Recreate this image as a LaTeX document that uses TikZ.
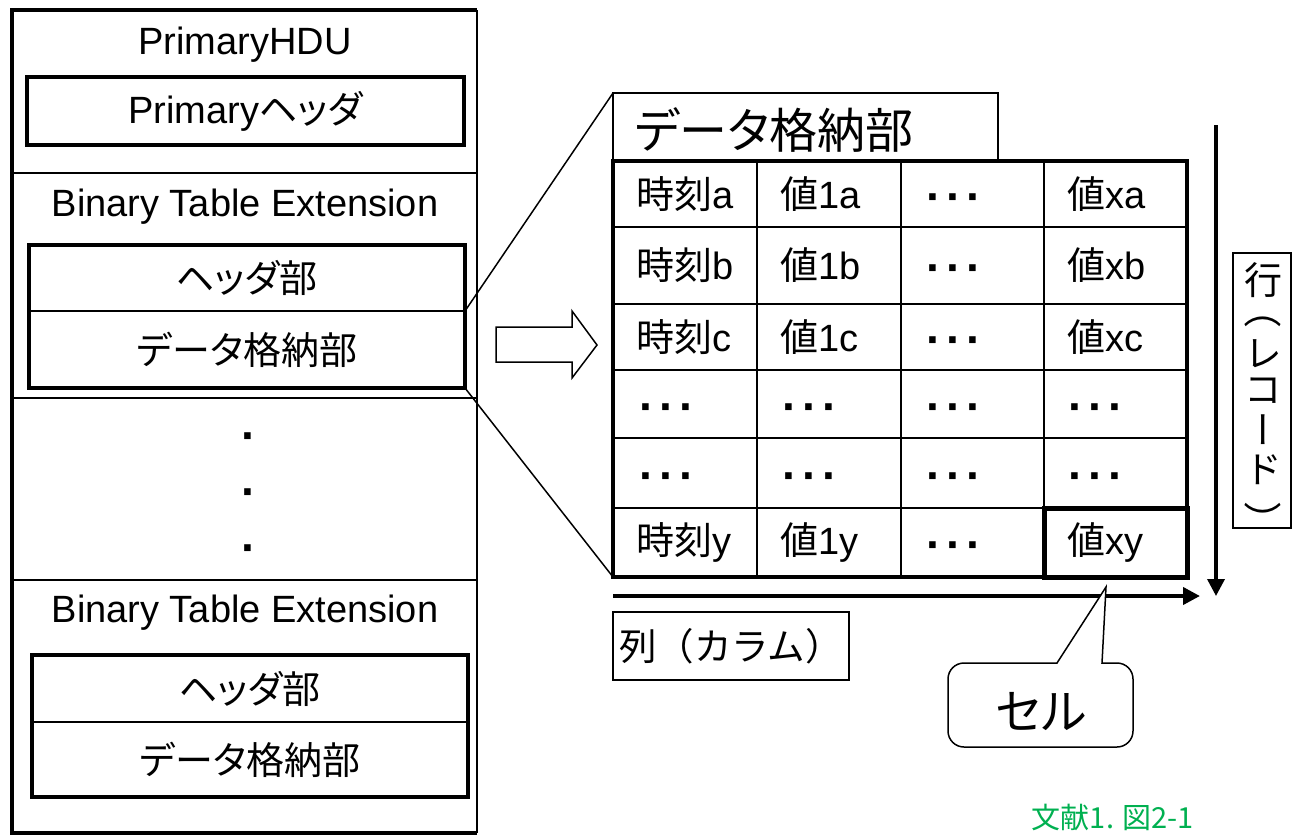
\documentclass[tikz,border=0pt]{standalone}
\usepackage{fontspec}
\setmainfont{Liberation Sans}
\newfontfamily\jp[RawFeature=+palt]{Noto Sans CJK JP}
\newfontfamily\jpf{Noto Sans CJK JP}
\newfontfamily\jpv[RawFeature=+vert]{Noto Sans CJK JP}
\usetikzlibrary{arrows.meta}
\newcommand\fs[1]{\fontsize{#1}{#1}\selectfont}
\newcommand\dt{{\fs{46}\bfseries ·}}
\newcommand\tdots{\dt\hspace{5pt}\dt\hspace{5pt}\dt}
\definecolor{citegreen}{RGB}{0,176,80}
\begin{document}
\begin{tikzpicture}[x=1pt,y=-1pt,
  every node/.style={inner sep=0pt, outer sep=0pt},
  txt/.style={font=\fs{38}},
  thickbox/.style={draw, line width=4pt},
  thinbox/.style={draw, line width=2pt},
  frame/.style={draw, line width=1.5pt},
  sep/.style={line width=2pt},
  grid/.style={line width=2.2pt},
  cell/.style={font=\fs{38}, anchor=west},
  dcell/.style={anchor=base west},
  vch/.style={font=\fs{38}\jpv},
  vparen/.style={font=\fs{38}\jp, rotate=-90},
  axis/.style={line width=4pt, -{Triangle[length=17pt,width=17pt]}}]
\useasboundingbox (0,0) rectangle (1293,836);
% ---------- left: file structure ----------
\node[minimum width=465pt, minimum height=823pt] (outer) at (244.5,421.5) {};
\draw[line width=4pt] (outer.north east) -- (outer.north west) -- (outer.south west) -- (outer.south east);
\draw[line width=2pt] (outer.north east) -- (outer.south east);
\draw[sep] (12,173) -- (477,173);
\draw[sep] (12,398) -- (477,398);
\draw[sep] (12,580) -- (477,580);
\node[txt] (hdu) at (245,45) {PrimaryHDU};
\node[thickbox, txt, minimum width=437pt, minimum height=68pt] (phdr) at (245.5,111) {Primary{\jp ヘッダ}};
\node[txt] (bte1t) at (245,207) {Binary Table Extension};
\node[thinbox, minimum width=436pt, minimum height=66pt, font=\fs{38}\jp] (h1) at (247,278) {ヘッダ部};
\node[thinbox, minimum width=436pt, minimum height=77pt, font=\fs{38}\jp] (d1) at (247,349.5) {データ格納部};
\draw[line width=4pt] (h1.north west) rectangle (d1.south east);
\node[dcell] (v1) at (241,451) {\dt};
\node[dcell] (v2) at (241,507) {\dt};
\node[dcell] (v3) at (241,563) {\dt};
\node[txt] (bte2t) at (245,613) {Binary Table Extension};
\node[thinbox, minimum width=436pt, minimum height=67pt, font=\fs{38}\jp] (h2) at (250,688.5) {ヘッダ部};
\node[thinbox, minimum width=436pt, minimum height=75pt, font=\fs{38}\jp] (d2) at (250,759.5) {データ格納部};
\draw[line width=4pt] (h2.north west) rectangle (d2.south east);
% ---------- block arrow ----------
\draw[line width=1.5pt, fill=white] (496,327) -- (572,327) -- (572,311) -- (597,345) -- (572,378) -- (572,362) -- (496,362) -- cycle;
% ---------- right: data table ----------
\node[frame, minimum width=385pt, minimum height=68pt] (title) at (805.5,127) {};
\node[anchor=west, font=\fs{48}\jp] (titletxt) at (635,130) {データ格納部};
\node[minimum width=574pt, minimum height=416pt] (table) at (900,369) {};
\foreach \x in {757,901,1044} \draw[grid] (\x,161) -- (\x,577);
\foreach \y in {227,304,370,438,508} \draw[grid] (613,\y) -- (1187,\y);
\draw[line width=4.5pt] (table.north west) rectangle (table.south east);
\node[draw, line width=5pt, minimum width=143pt, minimum height=69pt] (xy) at (1115.5,542.5) {};
% row 1
\node[cell] (r1c1) at (636,194) {{\jp 時刻}a};
\node[cell] (r1c2) at (780,194) {{\jp 値}1a};
\node[dcell] (r1c3) at (926,212) {\tdots};
\node[cell] (r1c4) at (1067,194) {{\jp 値}xa};
% row 2
\node[cell] (r2c1) at (636,265.5) {{\jp 時刻}b};
\node[cell] (r2c2) at (780,265.5) {{\jp 値}1b};
\node[dcell] (r2c3) at (926,283) {\tdots};
\node[cell] (r2c4) at (1067,265.5) {{\jp 値}xb};
% row 3
\node[cell] (r3c1) at (636,337) {{\jp 時刻}c};
\node[cell] (r3c2) at (780,337) {{\jp 値}1c};
\node[dcell] (r3c3) at (926,355) {\tdots};
\node[cell] (r3c4) at (1067,337) {{\jp 値}xc};
% rows 4, 5
\node[dcell] (r4c1) at (639,422) {\tdots};
\node[dcell] (r4c2) at (782,422) {\tdots};
\node[dcell] (r4c3) at (926,422) {\tdots};
\node[dcell] (r4c4) at (1068,422) {\tdots};
\node[dcell] (r5c1) at (639,491) {\tdots};
\node[dcell] (r5c2) at (782,491) {\tdots};
\node[dcell] (r5c3) at (926,491) {\tdots};
\node[dcell] (r5c4) at (1068,491) {\tdots};
% row 6
\node[cell] (r6c1) at (636,542.5) {{\jp 時刻}y};
\node[cell] (r6c2) at (780,542.5) {{\jp 値}1y};
\node[dcell] (r6c3) at (926,560) {\tdots};
\node[cell] (r6c4) at (1067,542.5) {{\jp 値}xy};
% ---------- zoom connectors ----------
\draw[line width=1.5pt] (d1.north east) -- (title.north west);
\draw[line width=1.5pt] (d1.south east) -- (table.south west);
% ---------- axes ----------
\coordinate (colS) at (613,596);
\coordinate (colE) at (1200,596);
\draw[axis] (colS) -- (colE);
\coordinate (rowS) at (1216,125);
\coordinate (rowE) at (1216,596);
\draw[axis, line width=3.5pt] (rowS) -- (rowE);
\node[frame, minimum width=236pt, minimum height=68pt, font=\fs{37.5}\jpf] (collab) at (731,646) {列（カラム）};
\node[frame, minimum width=58pt, minimum height=275pt] (rowlab) at (1262,390.5) {};
\node[vch] (rv1) at (1263,280) {行};
\node[vparen] (rv2) at (1263,318) {（};
\node[vch] (rv3) at (1263,354) {レ};
\node[vch] (rv4) at (1263,391) {コ};
\node[vch] (rv5) at (1263,430) {ー};
\node[vch] (rv6) at (1263,470) {ド};
\node[vparen] (rv7) at (1263,512) {）};
% ---------- callout ----------
\coordinate (tip) at (1106,587);
\draw[line width=1.5pt, fill=white] (1057,663) -- (tip) -- (1102,663)
  [rounded corners=16pt] -- (1133,663) -- (1133,747) -- (948,747) -- (948,663) [sharp corners] -- cycle;
\node[font=\fs{48}\jp] (cellname) at (1041,712) {セル};
% ---------- citation ----------
\node[font=\fs{29}\jp, text=citegreen] (cite) at (1113,817) {文献1. 図2-1};
\end{tikzpicture}
\end{document}
